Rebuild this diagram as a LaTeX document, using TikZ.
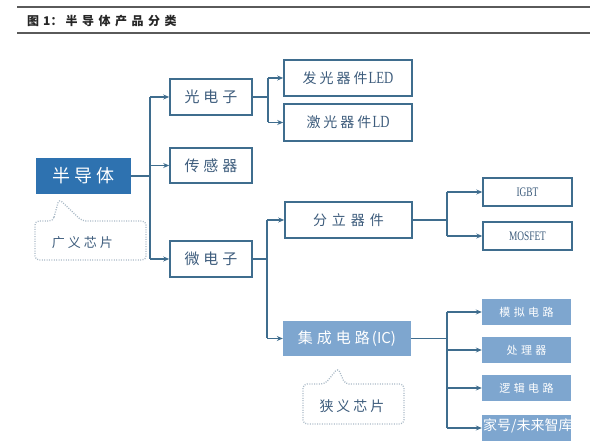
\documentclass[tikz,border=0pt]{standalone}
\usepackage{fontspec}
\usepackage{graphicx}
\newfontfamily\cjk{Noto Sans CJK SC}
\newfontfamily\lser{Liberation Serif}
\usetikzlibrary{arrows.meta}
\definecolor{dkblue}{HTML}{2E72B0}
\definecolor{ltblue}{HTML}{7EA6CF}
\definecolor{edgec}{HTML}{3F6D8E}
\definecolor{txtc}{HTML}{3D5C7C}
\definecolor{dotc}{HTML}{A9B9C6}
\definecolor{rulec}{HTML}{5A5A5A}
\newcommand{\kgap}[1]{\hspace{#1pt}}
\begin{document}
\begin{tikzpicture}[x=1pt,y=-1pt,
  obox/.style={draw=edgec,line width=1.6pt,fill=white,text=txtc,inner sep=0pt},
  lbox/.style={fill=ltblue,text=white,inner sep=0pt},
  ln/.style={draw=edgec,line width=1.4pt},
  arr/.style={ln,-{Stealth[length=6pt,width=5pt]}},
  callout/.style={draw=dotc,line width=1.3pt,dash pattern=on 1pt off 1.4pt,rounded corners=4pt},
  ctext/.style={text=txtc,inner sep=0pt}]
\useasboundingbox (0,0) rectangle (590,446);
\begin{scope}
\clip (0,0) rectangle (590,446);
% title
\draw[rulec,line width=1.8pt] (17,7) -- (590,7);
\draw[rulec,line width=1.8pt] (17,33) -- (590,33);
\node[anchor=west,inner sep=0pt,font=\cjk\bfseries\fontsize{12}{12}\selectfont,text=black!85] (title) at (27,21) {图\kgap{4}1：\kgap{3}半\kgap{4.5}导\kgap{4.5}体\kgap{4.5}产\kgap{4.5}品\kgap{4.5}分\kgap{4.5}类};

% nodes
\node[fill=dkblue,text=white,inner sep=0pt,minimum width=95,minimum height=36,font=\cjk\fontsize{18}{18}\selectfont] (ban) at (83.5,176) {半\kgap{4}导\kgap{4}体};
\node[obox,minimum width=82,minimum height=36,font=\cjk\fontsize{15}{15}\selectfont] (gd) at (211,97) {光\kgap{4}电\kgap{4}子};
\node[obox,minimum width=82,minimum height=35,font=\cjk\fontsize{15}{15}\selectfont] (cg) at (211,165.5) {传\kgap{4}感\kgap{4}器};
\node[obox,minimum width=82,minimum height=36,font=\cjk\fontsize{15}{15}\selectfont] (wd) at (211,259) {微\kgap{4}电\kgap{4}子};
\node[obox,minimum width=128,minimum height=36,font=\cjk\fontsize{14}{14}\selectfont] (led) at (348,78) {发\kgap{3}光\kgap{3}器\kgap{3}件\kgap{1}{\lser\fontsize{17}{17}\selectfont\scalebox{0.75}[1]{LED}}};
\node[obox,minimum width=128,minimum height=37,font=\cjk\fontsize{14}{14}\selectfont] (ld) at (348,122.5) {激\kgap{3}光\kgap{3}器\kgap{3}件\kgap{1}{\lser\fontsize{17}{17}\selectfont\scalebox{0.75}[1]{LD}}};
\node[obox,minimum width=127,minimum height=36,font=\cjk\fontsize{14}{14}\selectfont] (fl) at (348.5,220) {分\kgap{5}立\kgap{5}器\kgap{5}件};
\node[lbox,minimum width=128,minimum height=35,font=\cjk\fontsize{15}{15}\selectfont] (ic) at (347,338.5) {集\kgap{4}成\kgap{4}电\kgap{4}路\kgap{2}(IC)};
\node[obox,line width=1.4pt,minimum width=89,minimum height=28,font=\lser\fontsize{13}{13}\selectfont] (igbt) at (527.5,192) {\scalebox{0.72}[1]{IGBT}};
\node[obox,line width=1.4pt,minimum width=89,minimum height=28,font=\lser\fontsize{13}{13}\selectfont] (mos) at (527.5,236) {\scalebox{0.72}[1]{MOSFET}};
\node[lbox,minimum width=89,minimum height=26,font=\cjk\fontsize{11}{11}\selectfont] (mn) at (526.5,312) {模\kgap{3.5}拟\kgap{3.5}电\kgap{3.5}路};
\node[lbox,minimum width=89,minimum height=26,font=\cjk\fontsize{11}{11}\selectfont] (cl) at (526.5,350) {处\kgap{3.5}理\kgap{3.5}器};
\node[lbox,minimum width=89,minimum height=26,font=\cjk\fontsize{11}{11}\selectfont] (lj) at (526.5,388) {逻\kgap{3.5}辑\kgap{3.5}电\kgap{3.5}路};
\node[lbox,minimum width=89,minimum height=26] (q4) at (526.5,428) {};

% connectors
\coordinate (j1) at (150,176);
\draw[ln] (ban.east) -- (j1);
\draw[ln] (j1 |- gd.west) -- (j1 |- wd.west);
\draw[arr] (j1 |- gd.west) -- (gd.west);
\draw[arr] (j1 |- cg.west) -- (cg.west);
\draw[arr] (j1 |- wd.west) -- (wd.west);

\coordinate (j2) at (268,97);
\draw[ln] (gd.east) -- (j2);
\draw[ln] (j2 |- led.west) -- (j2 |- ld.west);
\draw[arr] (j2 |- led.west) -- (led.west);
\draw[arr] (j2 |- ld.west) -- (ld.west);

\coordinate (j3) at (267,259);
\draw[ln] (wd.east) -- (j3);
\draw[ln] (j3 |- fl.west) -- (j3 |- ic.west);
\draw[arr] (j3 |- fl.west) -- (fl.west);
\draw[arr] (j3 |- ic.west) -- (ic.west);

\coordinate (j4) at (447,220);
\draw[ln] (fl.east) -- (j4);
\draw[ln] (j4 |- igbt.west) -- (j4 |- mos.west);
\draw[arr] (j4 |- igbt.west) -- (igbt.west);
\draw[arr] (j4 |- mos.west) -- (mos.west);

\coordinate (j5) at (447,338.5);
\draw[ln] (ic.east) -- (j5);
\draw[ln] (j5 |- mn.west) -- (j5 |- q4.west);
\draw[arr] (j5 |- mn.west) -- (mn.west);
\draw[arr] (j5 |- cl.west) -- (cl.west);
\draw[arr] (j5 |- lj.west) -- (lj.west);
\draw[arr] (j5 |- q4.west) -- (q4.west);

% callouts
\draw[callout] (53,221) -- (59,199) -- (82,221) -- (146,221) -- (146,260) -- (35,260) -- (35,221) -- cycle;
\node[ctext,font=\cjk\fontsize{13}{13}\selectfont] (gy) at (82.5,243) {广\kgap{3}义\kgap{3}芯\kgap{3}片};
\draw[callout] (325,384) -- (338,368) -- (345,384) -- (404,384) -- (404,424) -- (303,424) -- (303,384) -- cycle;
\node[ctext,font=\cjk\fontsize{14}{14}\selectfont] (xy) at (352,406) {狭\kgap{3}义\kgap{3}芯\kgap{3}片};

% watermark
\node[anchor=west,inner sep=0pt,text=white,font=\cjk\fontsize{14}{14}\selectfont] (wm) at (483,426) {家号/未来智库};
\end{scope}
\end{tikzpicture}
\end{document}
